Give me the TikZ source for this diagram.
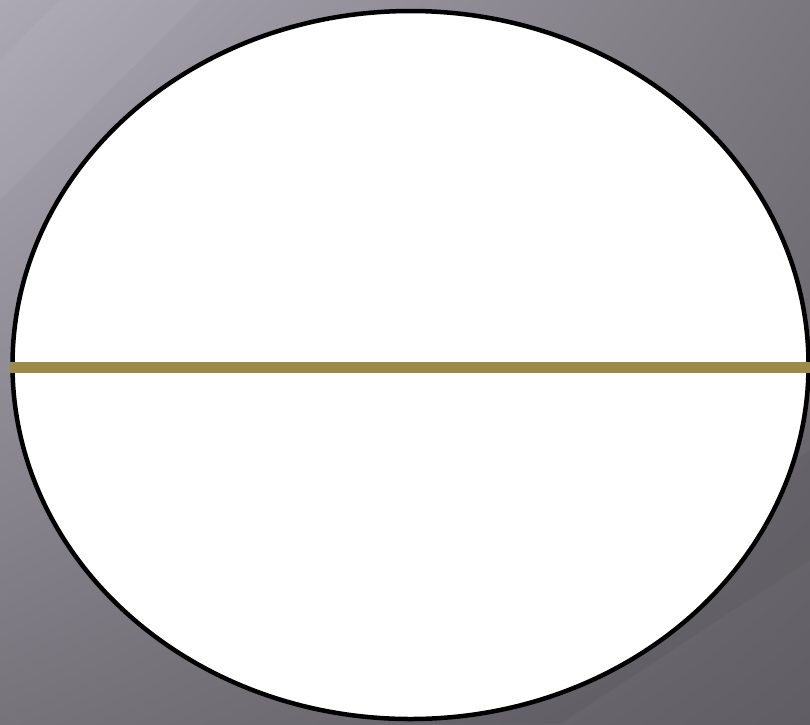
\documentclass[tikz,border=0pt]{standalone}
\usetikzlibrary{shapes.geometric,shadings}
\definecolor{bgUL}{RGB}{172,168,180}
\definecolor{bgUR}{RGB}{122,119,126}
\definecolor{bgLL}{RGB}{118,115,123}
\definecolor{bgLR}{RGB}{96,93,100}
\definecolor{goldline}{RGB}{156,138,75}
\tikzset{
  ring/.style={draw=black, line width=4.5pt, fill=white},
  bar/.style={draw=goldline, line width=11pt},
}
\begin{document}
\begin{tikzpicture}[x=1pt,y=-1pt]
\useasboundingbox (0,0) rectangle (810,724);
\shade[upper left=bgUL, upper right=bgUR, lower left=bgLL, lower right=bgLR] (0,0) rectangle (810,724);
\fill[white, opacity=0.05] (0,60) -- (60,0) -- (200,0) -- (0,200) -- cycle;
\fill[black, opacity=0.04] (810,450) -- (400,724) -- (560,724) -- (810,560) -- cycle;
\node[ring, ellipse, minimum width=796pt, minimum height=708pt, inner sep=0pt] (oval) at (410.5,365) {};
\coordinate (barL) at (10,367);
\coordinate (barR) at (810,367);
\draw[bar] (barL) -- (barR);
\end{tikzpicture}
\end{document}
